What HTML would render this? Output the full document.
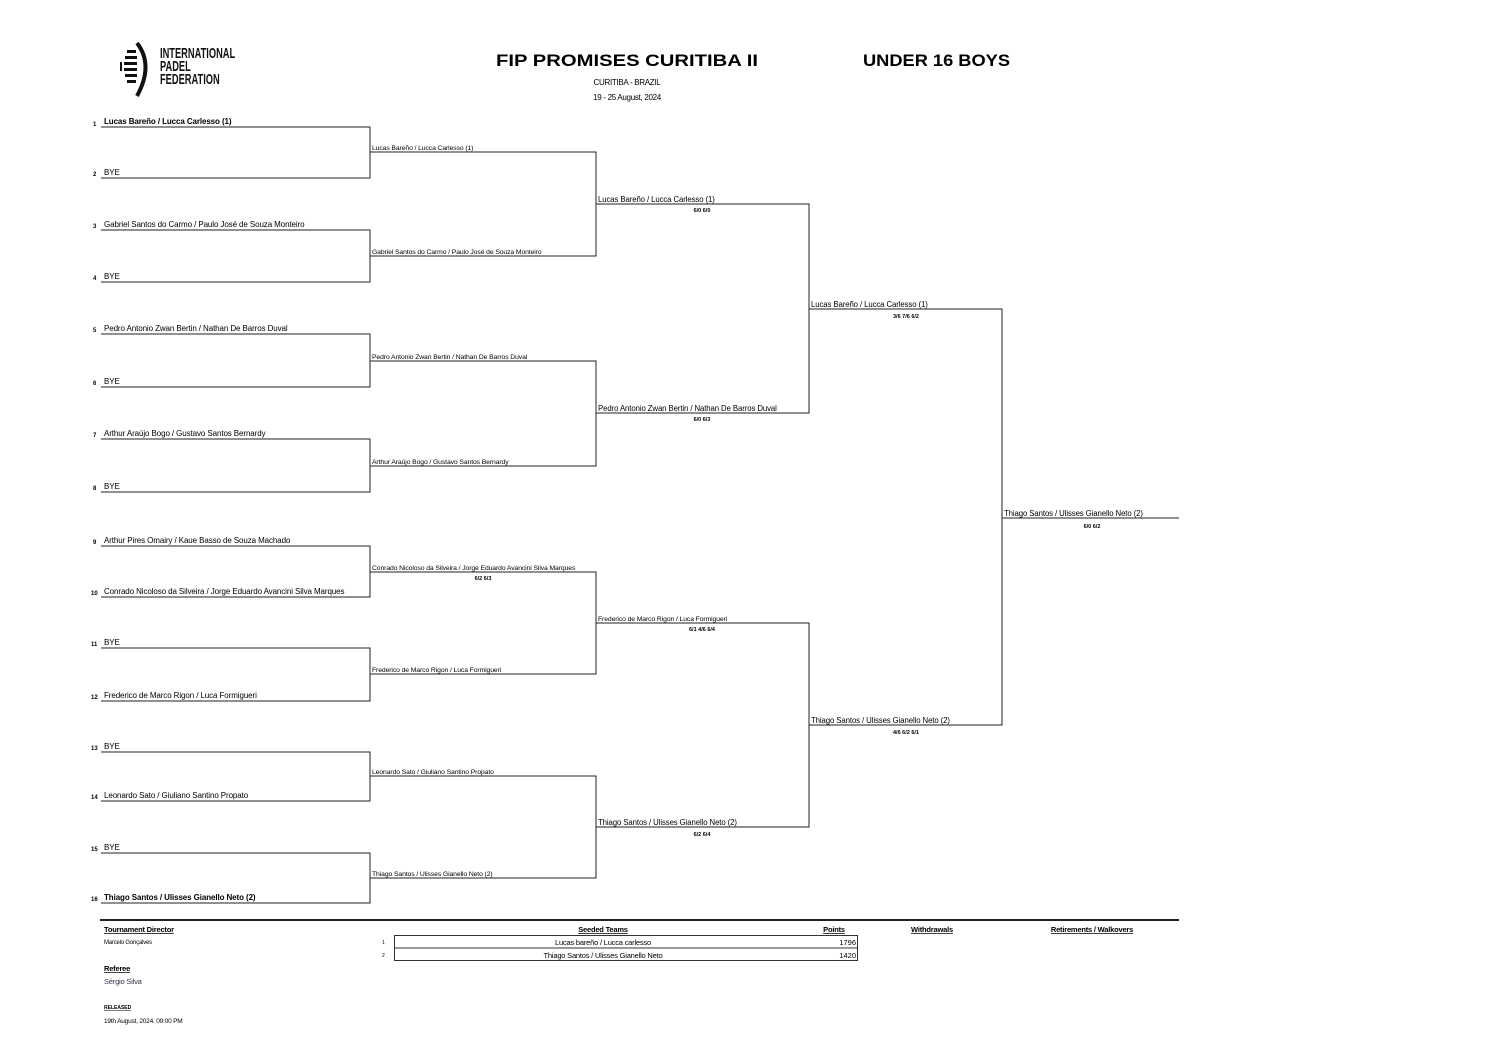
<!DOCTYPE html>
<html><head><meta charset="utf-8"><style>
html,body{margin:0;padding:0;background:#fff;}
svg{display:block;font-family:"Liberation Sans",sans-serif;}
.r1{font-size:8px;letter-spacing:-0.1px;}
.r2{font-size:6.8px;letter-spacing:-0.1px;}
.r3{font-size:7.8px;letter-spacing:-0.1px;}
.sc{font-size:5.5px;font-weight:bold;}
.n{font-size:6px;font-weight:bold;}
.h{font-size:7.5px;font-weight:bold;text-decoration:underline;letter-spacing:-0.2px;}
</style></head><body>
<svg width="1497" height="1058" viewBox="0 0 1497 1058" xmlns="http://www.w3.org/2000/svg">
<g fill="#111">
<path d="M137 43 Q154 65 137 96" stroke="#111" stroke-width="4" fill="none"/>
<rect x="127" y="50" width="9" height="3"/><rect x="125" y="56" width="12" height="3"/><rect x="124" y="62" width="13" height="3"/><rect x="124" y="68" width="13" height="3"/><rect x="125" y="74" width="12" height="3"/><rect x="127" y="80" width="9" height="3"/>
<rect x="120" y="62" width="2" height="9"/>
<g transform="translate(160,58) scale(0.62,1)" font-weight="bold" font-size="15"><text x="0" y="0">INTERNATIONAL</text><text x="0" y="13">PADEL</text><text x="0" y="26">FEDERATION</text></g>
</g>
<text x="496" y="66" font-size="17" font-weight="bold" textLength="262" lengthAdjust="spacingAndGlyphs">FIP PROMISES CURITIBA II</text>
<text x="863" y="66" font-size="17" font-weight="bold" textLength="147" lengthAdjust="spacingAndGlyphs">UNDER 16 BOYS</text>
<text x="627" y="85" font-size="8" text-anchor="middle" letter-spacing="-0.3">CURITIBA - BRAZIL</text>
<text x="627" y="100" font-size="8" text-anchor="middle" letter-spacing="-0.3">19 - 25 August, 2024</text>

<g stroke="#222" stroke-width="1" fill="none">
<path d="M101 127H370V178H101M101 230H370V282H101M101 334H370V387H101M101 439H370V492H101M101 546H370V597H101M101 648H370V701H101M101 752H370V801H101M101 853H370V903H101"/>
<path d="M370 152H596V256H370M370 361H596V466H370M370 572H596V674H370M370 776H596V878H370"/>
<path d="M596 204H809V413H596M596 623H809V827H596"/>
<path d="M809 309H1002V725H809"/>
<path d="M1002 518H1179"/>
</g>
<g class="n">
<text x="93" y="126">1</text><text x="93" y="176">2</text><text x="93" y="228">3</text><text x="93" y="280">4</text><text x="93" y="332">5</text><text x="93" y="385">6</text><text x="93" y="437">7</text><text x="93" y="490">8</text><text x="93" y="544">9</text><text x="91" y="595">10</text><text x="91" y="646">11</text><text x="91" y="699">12</text><text x="91" y="750">13</text><text x="91" y="799">14</text><text x="91" y="851">15</text><text x="91" y="901">16</text>
</g>
<g class="r1">
<text x="104" y="124" font-weight="bold">Lucas Bareño / Lucca Carlesso (1)</text>
<text x="104" y="175">BYE</text>
<text x="104" y="227">Gabriel Santos do Carmo / Paulo José de Souza Monteiro</text>
<text x="104" y="279">BYE</text>
<text x="104" y="331">Pedro Antonio Zwan Bertin / Nathan De Barros Duval</text>
<text x="104" y="384">BYE</text>
<text x="104" y="436">Arthur Araújo Bogo / Gustavo Santos Bernardy</text>
<text x="104" y="489">BYE</text>
<text x="104" y="543">Arthur Pires Omairy / Kaue Basso de Souza Machado</text>
<text x="104" y="594">Conrado Nicoloso da Silveira / Jorge Eduardo Avancini Silva Marques</text>
<text x="104" y="645">BYE</text>
<text x="104" y="698">Frederico de Marco Rigon / Luca Formigueri</text>
<text x="104" y="749">BYE</text>
<text x="104" y="798">Leonardo Sato / Giuliano Santino Propato</text>
<text x="104" y="850">BYE</text>
<text x="104" y="900" font-weight="bold">Thiago Santos / Ulisses Gianello Neto (2)</text>
</g>
<g class="r2">
<text x="372" y="150">Lucas Bareño / Lucca Carlesso (1)</text>
<text x="372" y="254">Gabriel Santos do Carmo / Paulo José de Souza Monteiro</text>
<text x="372" y="359">Pedro Antonio Zwan Bertin / Nathan De Barros Duval</text>
<text x="372" y="464">Arthur Araújo Bogo / Gustavo Santos Bernardy</text>
<text x="372" y="570">Conrado Nicoloso da Silveira / Jorge Eduardo Avancini Silva Marques</text>
<text x="372" y="672">Frederico de Marco Rigon / Luca Formigueri</text>
<text x="372" y="774">Leonardo Sato / Giuliano Santino Propato</text>
<text x="372" y="876">Thiago Santos / Ulisses Gianello Neto (2)</text>
<text x="598" y="621">Frederico de Marco Rigon / Luca Formigueri</text>
</g>
<g class="r3">
<text x="598" y="202">Lucas Bareño / Lucca Carlesso (1)</text>
<text x="598" y="411">Pedro Antonio Zwan Bertin / Nathan De Barros Duval</text>
<text x="598" y="825">Thiago Santos / Ulisses Gianello Neto (2)</text>
<text x="811" y="307">Lucas Bareño / Lucca Carlesso (1)</text>
<text x="811" y="723">Thiago Santos / Ulisses Gianello Neto (2)</text>
<text x="1004" y="516">Thiago Santos / Ulisses Gianello Neto (2)</text>
</g>
<g class="sc" text-anchor="middle">
<text x="483" y="580">6/2 6/3</text>
<text x="702" y="212">6/0 6/0</text>
<text x="702" y="421">6/0 6/3</text>
<text x="702" y="631">6/1 4/6 6/4</text>
<text x="702" y="836">6/2 6/4</text>
<text x="906" y="318">3/6 7/6 6/2</text>
<text x="906" y="734">4/6 6/2 6/1</text>
<text x="1092" y="528">6/0 6/2</text>
</g>
<line x1="100" y1="920" x2="1179" y2="920" stroke="#222" stroke-width="2"/>
<text class="h" x="104" y="932">Tournament Director</text>
<text class="h" x="603" y="932" text-anchor="middle">Seeded Teams</text>
<text class="h" x="834" y="932" text-anchor="middle">Points</text>
<text class="h" x="932" y="932" text-anchor="middle">Withdrawals</text>
<text class="h" x="1092" y="932" text-anchor="middle">Retirements / Walkovers</text>
<text x="104" y="944" font-size="6" letter-spacing="-0.2">Marcelo Gonçalves</text>
<text x="382" y="944" font-size="5">1</text><text x="382" y="957" font-size="5">2</text>
<rect x="394.5" y="935.5" width="463" height="25" fill="none" stroke="#333"/>
<line x1="394" y1="948" x2="858" y2="948" stroke="#333"/>
<text x="603" y="945" font-size="7.5" text-anchor="middle" letter-spacing="-0.2">Lucas bareño / Lucca carlesso</text>
<text x="603" y="958" font-size="7.5" text-anchor="middle" letter-spacing="-0.2">Thiago Santos / Ulisses Gianello Neto</text>
<text x="856" y="945" font-size="7.5" text-anchor="end">1796</text>
<text x="856" y="958" font-size="7.5" text-anchor="end">1420</text>
<text class="h" x="104" y="971">Referee</text>
<text x="104" y="984" font-size="7.5" fill="#334" letter-spacing="-0.2">Sérgio Silva</text>
<text x="104" y="1009" font-size="5" font-weight="bold" text-decoration="underline">RELEASED</text>
<text x="104" y="1023" font-size="6.5" letter-spacing="-0.2">19th August, 2024. 09:00 PM</text>
</svg>
</body></html>
